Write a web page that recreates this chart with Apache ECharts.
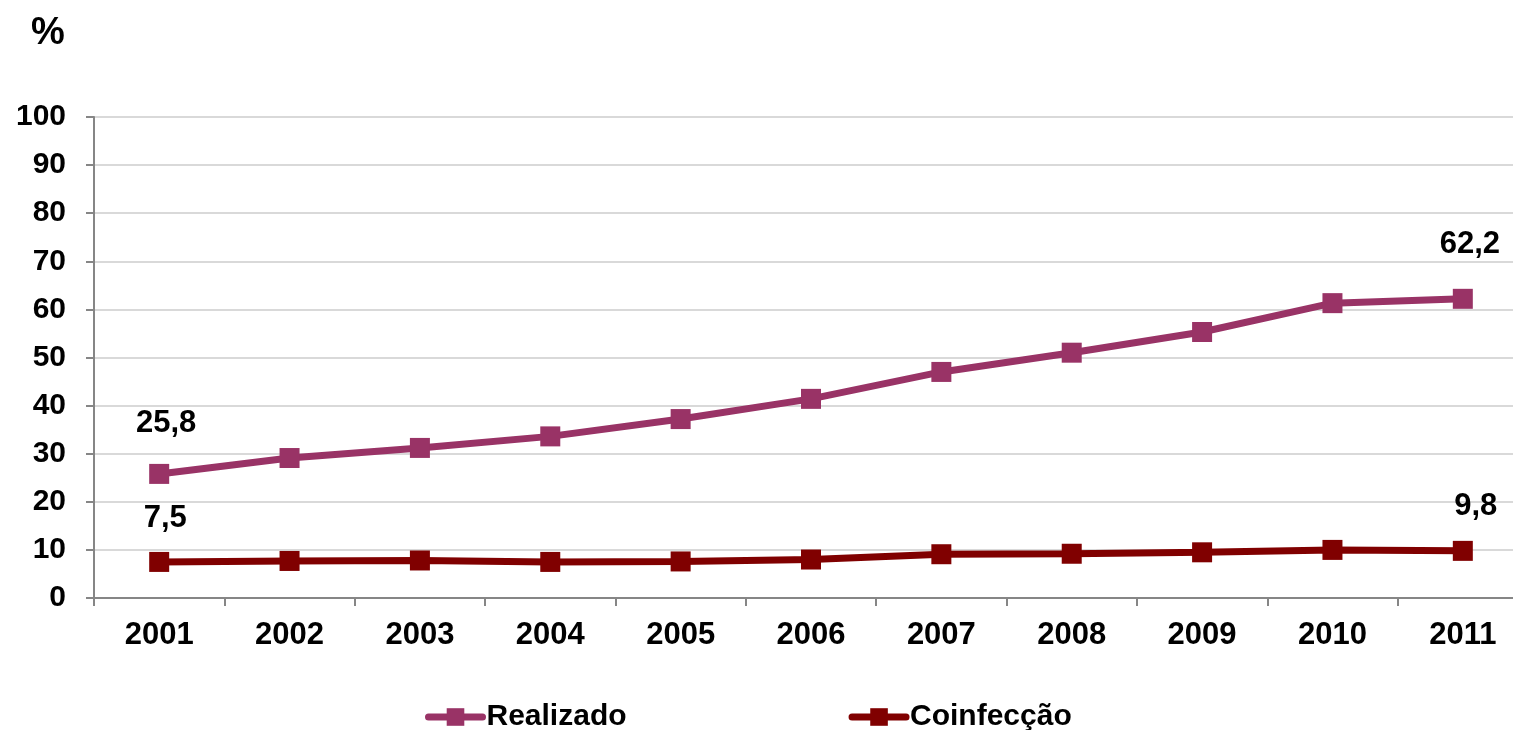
<!DOCTYPE html>
<html>
<head>
<meta charset="utf-8">
<script src="https://cdn.jsdelivr.net/npm/echarts@6/dist/echarts.min.js"></script>
<style>
  html, body { margin: 0; padding: 0; background: #ffffff; overflow: hidden; }
  /* the plot runs on past the right edge of the page */
  #chart { width: 1528px; height: 730px; }
</style>
</head>
<body>
<div id="chart"></div>
<script>
// Anos da série histórica
const years = ['2001', '2002', '2003', '2004', '2005', '2006', '2007', '2008', '2009', '2010', '2011'];
// Percentual de testagem realizada
const realizado = [25.8, 29.1, 31.2, 33.6, 37.2, 41.4, 47.0, 51.0, 55.3, 61.3, 62.2];
// Percentual de coinfecção
const coinfeccao = [7.5, 7.7, 7.8, 7.5, 7.6, 8.0, 9.1, 9.2, 9.5, 10.0, 9.8];
// Marcas do eixo vertical
const yTicks = [0, 10, 20, 30, 40, 50, 60, 70, 80, 90, 100];

const FONT = '"Liberation Sans", Arial, sans-serif';
const fmt = v => String(v.toFixed(1)).replace('.', ',');

// Rótulos apenas no primeiro e no último ponto de cada série
function withEndLabels(values, first, last) {
  return values.map((v, i) => {
    if (i === 0) return { value: v, label: Object.assign({ show: true }, first) };
    if (i === values.length - 1) return { value: v, label: Object.assign({ show: true }, last) };
    return v;
  });
}

const labelStyle = {
  position: 'top',
  fontFamily: FONT,
  fontWeight: 'bold',
  fontSize: 31,
  color: '#000000',
  formatter: p => fmt(p.value)
};

const chart = echarts.init(document.getElementById('chart'), null, { renderer: 'canvas' });
chart.setOption({
  backgroundColor: '#ffffff',
  animation: false,
  title: {
    text: '%',
    left: 26,
    top: 10,
    textStyle: { fontFamily: FONT, fontWeight: 'bold', fontSize: 38, color: '#000000' }
  },
  legend: {
    top: 697,
    left: 420,
    itemGap: 222,
    itemWidth: 54,
    itemHeight: 22,
    lineStyle: { width: 7, cap: 'round' },
    textStyle: { fontFamily: FONT, fontWeight: 'bold', fontSize: 30, color: '#000000', padding: [0, 0, 0, -1] },
    data: ['Realizado', 'Coinfecção']
  },
  grid: { left: 94, right: 0, top: 117, height: 481, containLabel: false },
  xAxis: {
    type: 'category',
    data: years,
    boundaryGap: true,
    axisLine: { lineStyle: { color: '#868686', width: 2 } },
    axisTick: { show: true, length: 8, lineStyle: { color: '#868686', width: 2 } },
    axisLabel: { margin: 22, fontFamily: FONT, fontWeight: 'bold', fontSize: 31, color: '#000000' }
  },
  yAxis: {
    type: 'value',
    min: yTicks[0],
    max: yTicks[yTicks.length - 1],
    interval: yTicks[1] - yTicks[0],
    axisLine: { show: true, lineStyle: { color: '#868686', width: 2 } },
    axisTick: { show: true, length: 8, lineStyle: { color: '#868686', width: 2 } },
    axisLabel: { margin: 28, fontFamily: FONT, fontWeight: 'bold', fontSize: 30, color: '#000000' },
    splitLine: { lineStyle: { color: '#d9d9d9', width: 2 } }
  },
  series: [
    {
      name: 'Realizado',
      type: 'line',
      data: withEndLabels(realizado,
        Object.assign({}, labelStyle, { distance: 25, offset: [7, 0] }),
        Object.assign({}, labelStyle, { distance: 29, offset: [7, 0] })),
      symbol: 'rect',
      symbolSize: 20,
      color: '#993366',
      lineStyle: { width: 7, color: '#993366' },
      itemStyle: { color: '#993366' },
      z: 3
    },
    {
      name: 'Coinfecção',
      type: 'line',
      data: withEndLabels(coinfeccao,
        Object.assign({}, labelStyle, { distance: 18, offset: [6, 0] }),
        Object.assign({}, labelStyle, { distance: 19, offset: [13, 0] })),
      symbol: 'rect',
      symbolSize: 20,
      color: '#800000',
      lineStyle: { width: 7, color: '#800000' },
      itemStyle: { color: '#800000' },
      z: 2
    }
  ]
});
</script>
</body>
</html>
